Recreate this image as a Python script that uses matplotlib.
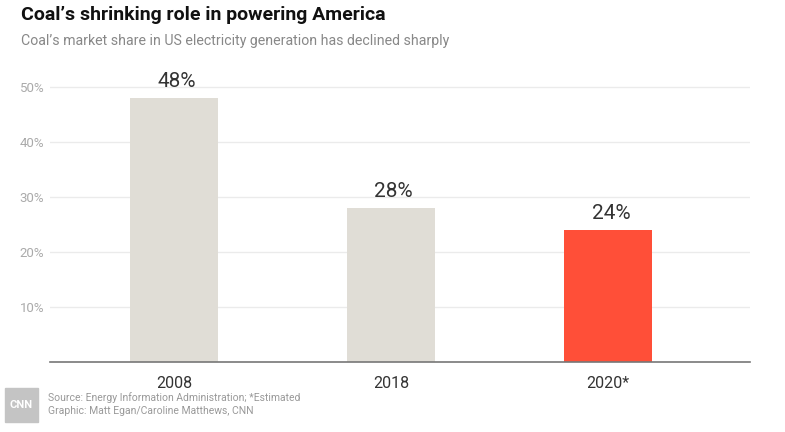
import matplotlib.pyplot as plt
from matplotlib.patches import Rectangle

years = ["2008", "2018", "2020*"]
share = [48, 28, 24]
bar_colors = ["#e0ddd6", "#e0ddd6", "#ff4f38"]
yticks = [10, 20, 30, 40, 50]

plt.rcParams['font.family'] = ['Roboto', 'DejaVu Sans']

fig = plt.figure(figsize=(7.85, 4.32), dpi=100)
ax = fig.add_axes([50 / 785, 0.1613, 700 / 785, 0.6630])

x = list(range(len(years)))
bars = ax.bar(x, share, width=0.406, color=bar_colors, zorder=2)

for b, v in zip(bars, share):
    ax.annotate(f"{v}%", (b.get_x() + b.get_width() / 2, v),
                xytext=(2, 5), textcoords="offset points",
                ha="center", va="bottom", fontsize=15, color="#333333")

ax.set_xlim(-0.571, 2.654)
ax.set_ylim(0, 52)
ax.set_yticks(yticks)
ax.set_yticklabels([f"{t}%" for t in yticks])
ax.set_xticks(x)
ax.set_xticklabels(years)
ax.tick_params(axis="y", length=0, pad=4, labelsize=9.5, labelcolor="#aaaaaa")
ax.tick_params(axis="x", length=0, pad=10, labelsize=11.5, labelcolor="#333333")
ax.grid(axis="y", color="#ebebeb", linewidth=1, zorder=0)
for s in ["top", "right", "left"]:
    ax.spines[s].set_visible(False)
ax.spines["bottom"].set_color("#777777")
ax.spines["bottom"].set_linewidth(1.2)

fig.text(21 / 785, 1 - 15 / 432, "Coal’s shrinking role in powering America",
         fontsize=14, fontweight="bold", color="#111111", va="center")
fig.text(21 / 785, 1 - 41 / 432, "Coal’s market share in US electricity generation has declined sharply",
         fontsize=10.2, color="#888888", va="center")

# CNN logo block
fig.patches.append(Rectangle((5 / 785, 1 - 422 / 432), 33 / 785, 34 / 432,
                             transform=fig.transFigure, color="#c4c4c4"))
fig.text(21.5 / 785, 1 - 405 / 432, "CNN", fontsize=8, fontweight="bold",
         color="white", ha="center", va="center")
fig.text(48 / 785, 1 - 398 / 432, "Source: Energy Information Administration; *Estimated",
         fontsize=7.5, color="#999999", va="center")
fig.text(48 / 785, 1 - 411 / 432, "Graphic: Matt Egan/Caroline Matthews, CNN",
         fontsize=7.5, color="#999999", va="center")

fig.savefig("out.png", dpi=100)
